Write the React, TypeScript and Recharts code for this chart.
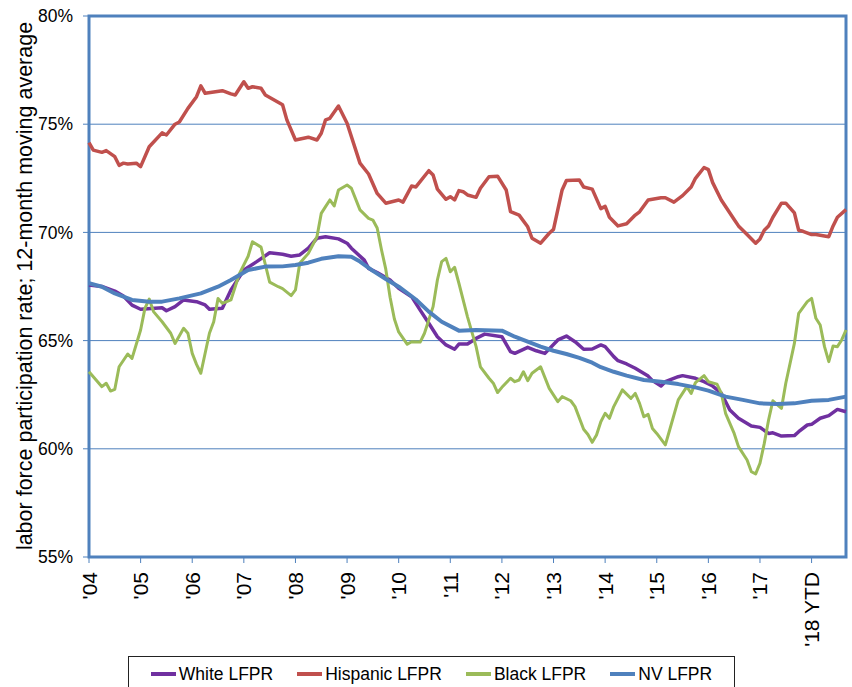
import { LineChart, Line, XAxis, YAxis, CartesianGrid, ReferenceArea, Label } from 'recharts'

const FONT = '"Liberation Sans", Arial, sans-serif'
const BORDER = '#4f81bd'

const yearLabels = ["'04", "'05", "'06", "'07", "'08", "'09", "'10", "'11", "'12", "'13", "'14", "'15", "'16", "'17", "'18 YTD"]
const yearTicks = yearLabels.map((_, i) => i * 12)
const yTicks = [55, 60, 65, 70, 75, 80]

// [months since Jan 2004, 12-month moving average %]
const white: [number, number][] = [
  [0, 67.57], [3, 67.5], [6, 67.29], [8, 67.06], [10, 66.64], [12, 66.45], [17, 66.52], [18, 66.38],
  [20, 66.57], [22, 66.88], [25, 66.8], [27, 66.65], [28, 66.45], [31, 66.49], [33, 67.34], [36, 68.26],
  [39, 68.65], [42, 69.06], [45, 68.99], [47, 68.9], [49, 68.96], [51, 69.27], [53, 69.73], [55, 69.8],
  [58, 69.7], [60, 69.5], [61, 69.27], [64, 68.72], [65, 68.34], [67, 68.14], [68, 68.03], [70, 67.8],
  [72, 67.42], [75, 67.03], [77, 66.41], [79, 65.8], [81, 65.18], [83, 64.8], [85, 64.6], [86, 64.84],
  [88, 64.84], [90, 65.1], [92, 65.3], [96, 65.18], [98, 64.49], [99, 64.41], [102, 64.69], [104, 64.53],
  [106, 64.41], [109, 65.03], [111, 65.21], [113, 64.95], [115, 64.6], [117, 64.61], [119, 64.8], [120, 64.72],
  [122, 64.26], [123, 64.07], [125, 63.92], [127, 63.72], [130, 63.36], [131, 63.15], [133, 62.9], [134, 63.1],
  [137, 63.33], [138, 63.38], [141, 63.26], [143, 63.1], [145, 62.9], [147, 62.57], [149, 61.79], [151, 61.41],
  [154, 61.05], [156, 60.99], [158, 60.71], [159, 60.74], [161, 60.59], [164, 60.61], [165, 60.79], [167, 61.1],
  [168, 61.13], [170, 61.41], [172, 61.53], [174, 61.82], [176, 61.71],
]

const hispanic: [number, number][] = [
  [0, 74.15], [1, 73.8], [3, 73.7], [4, 73.78], [6, 73.5], [7, 73.1], [8, 73.2], [9, 73.16], [11, 73.2],
  [12, 73.04], [14, 73.96], [17, 74.6], [18, 74.5], [20, 75.0], [21, 75.1], [23, 75.73], [25, 76.27],
  [26, 76.77], [27, 76.43], [31, 76.55], [33, 76.4], [34, 76.35], [36, 76.96], [37, 76.66], [38, 76.73],
  [40, 76.66], [41, 76.35], [45, 75.9], [46, 75.2], [48, 74.27], [51, 74.4], [53, 74.27], [54, 74.58],
  [55, 75.2], [56, 75.27], [58, 75.84], [60, 75.04], [63, 73.2], [65, 72.7], [67, 71.8], [69, 71.35],
  [72, 71.5], [73, 71.4], [75, 72.14], [76, 72.1], [79, 72.85], [80, 72.65], [81, 72.0], [83, 71.53],
  [84, 71.65], [85, 71.5], [86, 71.93], [87, 71.88], [88, 71.73], [90, 71.62], [91, 72.04], [93, 72.57],
  [95, 72.6], [97, 71.96], [98, 70.96], [100, 70.8], [102, 70.26], [103, 69.73], [105, 69.5], [107, 69.96],
  [108, 70.14], [110, 71.96], [111, 72.4], [114, 72.42], [115, 72.1], [117, 72.0], [119, 71.1], [120, 71.2],
  [121, 70.7], [123, 70.3], [125, 70.4], [127, 70.8], [128, 70.95], [130, 71.5], [133, 71.6], [134, 71.6],
  [136, 71.4], [138, 71.7], [140, 72.1], [141, 72.5], [143, 73.0], [144, 72.9], [145, 72.3], [147, 71.5],
  [150, 70.6], [151, 70.3], [153, 69.9], [155, 69.5], [156, 69.7], [157, 70.1], [158, 70.3], [159, 70.7],
  [161, 71.35], [162, 71.35], [164, 70.9], [165, 70.1], [166, 70.05], [168, 69.9], [169, 69.9], [172, 69.8],
  [173, 70.3], [174, 70.7], [176, 71.05],
]

const black: [number, number][] = [
  [0, 63.56], [2, 63.1], [3, 62.87], [4, 63.03], [5, 62.67], [6, 62.75], [7, 63.79], [9, 64.38], [10, 64.18],
  [12, 65.49], [13, 66.49], [14, 66.92], [15, 66.34], [17, 65.87], [19, 65.34], [20, 64.87], [22, 65.57],
  [23, 65.34], [24, 64.41], [25, 63.9], [26, 63.49], [28, 65.34], [29, 65.87], [30, 66.95], [31, 66.72],
  [33, 66.88], [35, 68.11], [37, 68.9], [38, 69.57], [40, 69.32], [42, 67.7], [44, 67.49], [45, 67.4],
  [47, 67.08], [48, 67.34], [49, 68.57], [51, 69.03], [52, 69.42], [53, 69.8], [54, 70.88], [55, 71.19],
  [56, 71.5], [57, 71.22], [58, 71.96], [60, 72.19], [61, 72.04], [63, 71.04], [65, 70.65], [66, 70.57],
  [67, 70.2], [68, 69.2], [69, 68.3], [70, 67.0], [71, 66.0], [72, 65.4], [74, 64.83], [75, 64.95],
  [77, 64.93], [78, 65.34], [80, 66.57], [81, 67.8], [82, 68.65], [83, 68.8], [84, 68.18], [85, 68.39],
  [86, 67.65], [88, 66.1], [90, 64.72], [91, 63.79], [93, 63.26], [94, 63.03], [95, 62.6], [96, 62.84],
  [98, 63.26], [99, 63.1], [100, 63.18], [101, 63.56], [102, 63.15], [103, 63.49], [105, 63.79], [107, 62.79],
  [109, 62.18], [110, 62.41], [112, 62.22], [113, 61.95], [115, 60.9], [116, 60.66], [117, 60.3], [118, 60.64],
  [119, 61.25], [120, 61.64], [121, 61.41], [122, 61.95], [124, 62.72], [126, 62.33], [127, 62.56], [128, 62.1],
  [129, 61.48], [130, 61.59], [131, 60.94], [132, 60.71], [134, 60.18], [135, 60.87], [137, 62.26], [139, 62.87],
  [140, 62.56], [141, 63.06], [143, 63.38], [144, 63.1], [146, 62.99], [147, 62.57], [148, 61.64], [150, 60.71],
  [151, 60.1], [153, 59.48], [154, 58.94], [155, 58.84], [156, 59.33], [157, 60.25], [158, 61.33], [159, 62.22],
  [161, 61.87], [162, 63.03], [164, 64.87], [165, 66.26], [167, 66.8], [168, 66.95], [169, 66.03], [170, 65.72],
  [171, 64.72], [172, 64.03], [173, 64.75], [174, 64.72], [175, 65.03], [176, 65.49],
]

const nv: [number, number][] = [
  [0, 67.65], [3, 67.49], [6, 67.18], [10, 66.88], [14, 66.8], [17, 66.8], [21, 66.95], [26, 67.18],
  [30, 67.49], [33, 67.8], [37, 68.26], [41, 68.42], [45, 68.43], [48, 68.49], [51, 68.6], [54, 68.78],
  [58, 68.9], [61, 68.87], [63, 68.65], [66, 68.22], [69, 67.85], [72, 67.49], [74, 67.2], [76, 66.9],
  [79, 66.34], [82, 65.87], [86, 65.46], [90, 65.49], [96, 65.46], [99, 65.18], [102, 64.95], [105, 64.72],
  [108, 64.53], [111, 64.38], [114, 64.2], [117, 63.98], [119, 63.77], [122, 63.56], [125, 63.38], [129, 63.18],
  [133, 63.1], [137, 62.99], [141, 62.84], [144, 62.69], [148, 62.41], [152, 62.26], [156, 62.1], [160, 62.07],
  [164, 62.1], [168, 62.22], [172, 62.26], [176, 62.41],
]

const series = [
  { name: 'White LFPR', color: '#7030a0', points: white, width: 3.5 },
  { name: 'Hispanic LFPR', color: '#c0504d', points: hispanic, width: 3.5 },
  { name: 'Black LFPR', color: '#9bbb59', points: black, width: 3 },
  { name: 'NV LFPR', color: '#4f81bd', points: nv, width: 4 },
]

const toRows = (pts: [number, number][]) => pts.map(([m, v]) => ({ m, v }))

// eslint-disable-next-line @typescript-eslint/no-explicit-any
const YearTick = ({ x, y, payload }: any) => (
  <g transform={`translate(${x},${y})`}>
    <text
      transform="rotate(-90)"
      textAnchor="end"
      dominantBaseline="central"
      fontSize={21}
      fontFamily={FONT}
      fill="#000"
    >
      {yearLabels[Math.round(payload.value / 12)]}
    </text>
  </g>
)

const YTitle = () => (
  <text
    x={25}
    y={286}
    transform="rotate(-90 25 286)"
    textAnchor="middle"
    dominantBaseline="central"
    fontSize={21.5}
    fontFamily={FONT}
    fill="#000"
  >
    labor force participation rate; 12-month moving average
  </text>
)

export default function App() {
  return (
    <div style={{ position: 'absolute', left: 0, top: 0, width: 852, height: 687, background: '#fff', overflow: 'hidden' }}>
      <LineChart width={852} height={687} margin={{ top: 16, right: 6, left: 0, bottom: 0 }}>
        <CartesianGrid vertical={false} stroke={BORDER} strokeWidth={1} />
        <XAxis
          type="number"
          dataKey="m"
          domain={[0, 176]}
          ticks={yearTicks}
          interval={0}
          height={130}
          tick={<YearTick />}
          tickSize={6}
          tickMargin={9}
          tickLine={{ stroke: BORDER }}
          axisLine={false}
        />
        <YAxis
          width={89}
          domain={[55, 80]}
          ticks={yTicks}
          interval={0}
          tickFormatter={(v) => `${v}%`}
          tick={{ fontSize: 17.5, fill: '#000', fontFamily: FONT }}
          tickSize={6}
          tickMargin={10}
          tickLine={{ stroke: BORDER }}
          axisLine={false}
        >
          <Label content={<YTitle />} />
        </YAxis>
        <ReferenceArea x1={0} x2={176} y1={55} y2={80} fill="none" stroke={BORDER} strokeWidth={3} />
        {series.map((s) => (
          <Line
            key={s.name}
            data={toRows(s.points)}
            dataKey="v"
            name={s.name}
            type="linear"
            stroke={s.color}
            strokeWidth={s.width}
            dot={false}
            activeDot={false}
            strokeLinejoin="round"
            isAnimationActive={false}
          />
        ))}
      </LineChart>
      <div
        style={{
          position: 'absolute',
          left: 128,
          top: 656,
          width: 607,
          height: 40,
          border: '1px solid #222',
          boxSizing: 'border-box',
          display: 'flex',
          justifyContent: 'center',
          alignItems: 'flex-start',
          paddingTop: 6,
          gap: 24,
          fontFamily: FONT,
          fontSize: 17.5,
          color: '#000',
        }}
      >
        {series.map((s) => (
          <div key={s.name} style={{ display: 'flex', alignItems: 'center', gap: 3, lineHeight: '22px' }}>
            <span style={{ display: 'inline-block', width: 25, height: 4, background: s.color }} />
            <span>{s.name}</span>
          </div>
        ))}
      </div>
    </div>
  )
}
